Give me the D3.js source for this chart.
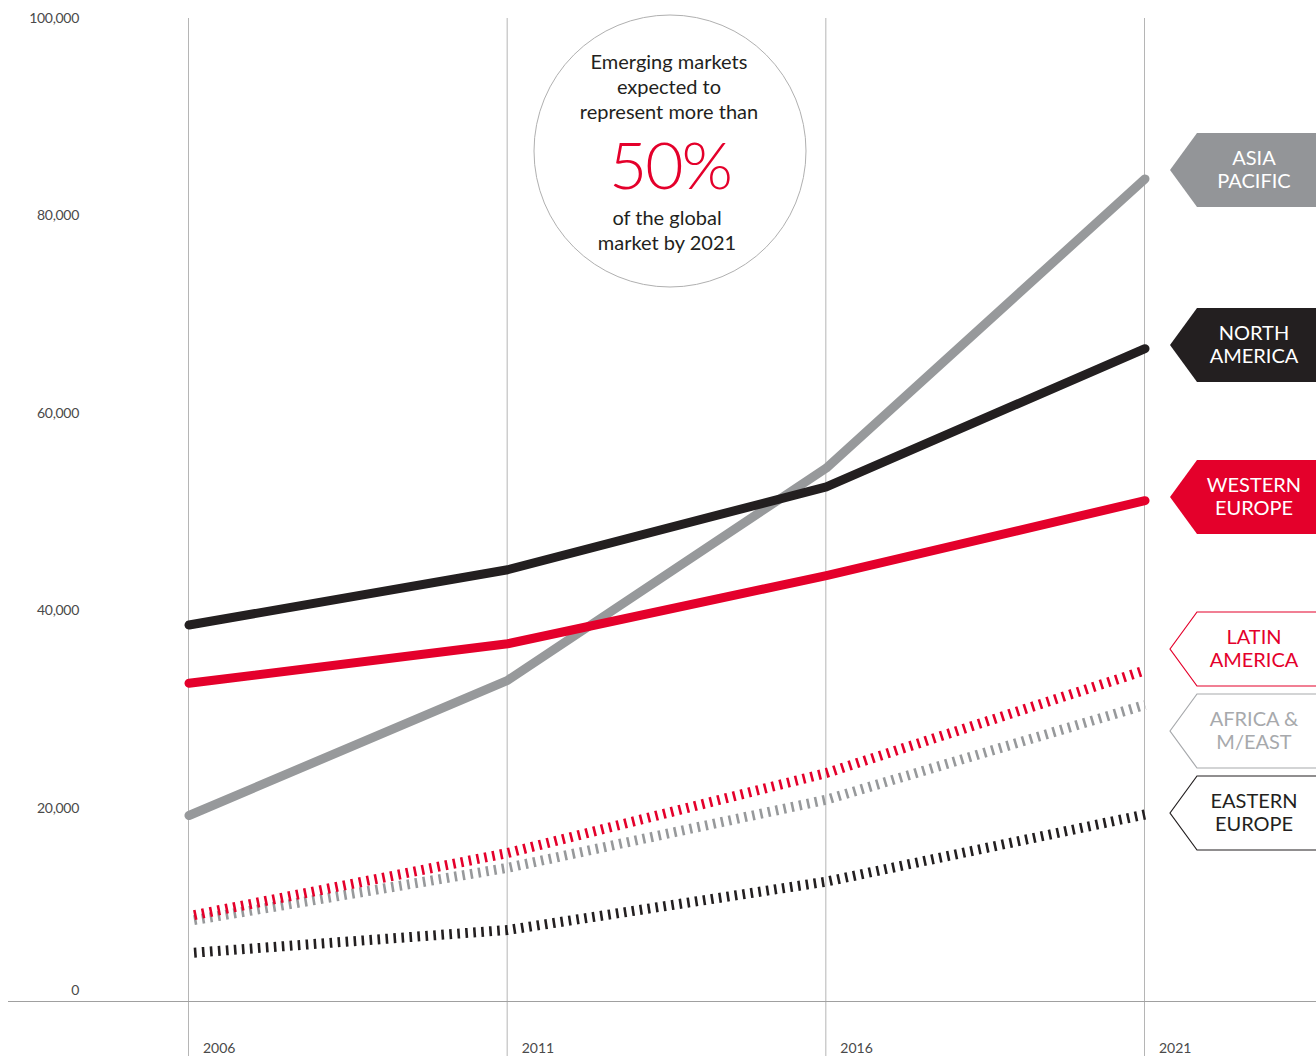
<!DOCTYPE html>
<html>
<head>
<meta charset="utf-8">
<script src="https://cdn.jsdelivr.net/npm/d3@7"></script>
<style>
  html, body { margin: 0; padding: 0; background: #fff; }
  svg { display: block; }
  text { font-family: Lato, "Open Sans", sans-serif; }
</style>
</head>
<body>
<svg id="chart" width="1316" height="1056"></svg>
<script>
// ---- data ----
const years = [2006, 2011, 2016, 2021];
const yTicks = [0, 20000, 40000, 60000, 80000, 100000];
const asiaPacific   = [19200, 32900, 54400, 83700];
const northAmerica  = [38500, 44100, 52500, 66500];
const westernEurope = [32600, 36600, 43500, 51100];
const latinAmerica  = [9100, 15400, 23500, 33900];
const africaMEast   = [8600, 13900, 20800, 30400];
const easternEurope = [5300, 7600, 12500, 19300];
const seriesNames = ["ASIA PACIFIC", "NORTH AMERICA", "WESTERN EUROPE", "LATIN AMERICA", "AFRICA & M/EAST", "EASTERN EUROPE"];
const labelLines = [["ASIA", "PACIFIC"], ["NORTH", "AMERICA"], ["WESTERN", "EUROPE"], ["LATIN", "AMERICA"], ["AFRICA &", "M/EAST"], ["EASTERN", "EUROPE"]];
const calloutLines = ["Emerging markets", "expected to", "represent more than"];
const calloutBig = "50%";
const calloutLines2 = ["of the global", "market by 2021"];

// ---- styling ----
const RED = "#e4002b", BLACK = "#231f20", GRAY = "#97999b", LIGHTGRAY = "#a7a9ac";
const series = [
  { name: seriesNames[0], values: asiaPacific,   color: GRAY,  dashed: false, tag: "fill", tagColor: "#939598", textColor: "#fff", top: 133 },
  { name: seriesNames[1], values: northAmerica,  color: BLACK, dashed: false, tag: "fill", tagColor: BLACK, textColor: "#fff", top: 308 },
  { name: seriesNames[2], values: westernEurope, color: RED,   dashed: false, tag: "fill", tagColor: RED, textColor: "#fff", top: 460 },
  { name: seriesNames[3], values: latinAmerica,  color: RED,   dashed: true,  tag: "outline", tagColor: RED, textColor: RED, top: 612 },
  { name: seriesNames[4], values: africaMEast,   color: GRAY,  dashed: true,  tag: "outline", tagColor: LIGHTGRAY, textColor: LIGHTGRAY, top: 694 },
  { name: seriesNames[5], values: easternEurope, color: BLACK, dashed: true,  tag: "outline", tagColor: BLACK, textColor: BLACK, top: 776 }
];

const svg = d3.select("#chart");
const x = d3.scaleLinear().domain([2006, 2021]).range([189, 1145]);
const y = d3.scaleLinear().domain([0, 100000]).range([1005, 18]);
const axisY = 1001;

// vertical gridlines
svg.append("g").selectAll("line").data(years).join("line")
  .attr("x1", d => x(d) - 0.5).attr("x2", d => x(d) - 0.5)
  .attr("y1", 18).attr("y2", 1056)
  .attr("stroke", "#b5b5b5").attr("stroke-width", 1);

// horizontal axis line
svg.append("line").attr("x1", 8).attr("x2", 1316).attr("y1", axisY + 0.5).attr("y2", axisY + 0.5)
  .attr("stroke", "#a0a0a0").attr("stroke-width", 1);

// y labels
const fmt = d3.format(",");
svg.append("g").selectAll("text").data(yTicks).join("text")
  .attr("x", 79)
  .attr("y", d => Math.min(y(d), axisY - 11) + 5)
  .attr("text-anchor", "end")
  .attr("font-size", 14).attr("fill", "#4a4a4a")
  .attr("letter-spacing", -0.3)
  .text(d => fmt(d));

// x labels
svg.append("g").selectAll("text").data(years).join("text")
  .attr("x", d => x(d) + 14)
  .attr("y", 1053)
  .attr("font-size", 14).attr("fill", "#4a4a4a")
  .text(d => d);

// callout circle
const cx = 670, cy = 151, r = 136;
svg.append("circle").attr("cx", cx).attr("cy", cy).attr("r", r)
  .attr("fill", "#fff").attr("stroke", "#b0b0b0").attr("stroke-width", 1);
svg.append("g").selectAll("text").data(calloutLines).join("text")
  .attr("x", cx - 1).attr("y", (d, i) => 69 + i * 25)
  .attr("text-anchor", "middle").attr("font-size", 20).attr("fill", BLACK)
  .text(d => d);
svg.append("text").attr("x", cx).attr("y", 189)
  .attr("text-anchor", "middle").attr("font-size", 66).attr("font-weight", 300)
  .attr("fill", RED).attr("letter-spacing", -2).text(calloutBig);
svg.append("g").selectAll("text").data(calloutLines2).join("text")
  .attr("x", cx - 3).attr("y", (d, i) => 225 + i * 25)
  .attr("text-anchor", "middle").attr("font-size", 20).attr("fill", BLACK)
  .text(d => d);

// lines (Asia Pacific beneath the other solid lines)
const line = d3.line().x((d, i) => x(years[i])).y(d => y(d));
const dashLine = d3.line().x((d, i) => x(years[i]) + (i === 0 ? 5 : 0)).y(d => y(d));
const drawOrder = [5, 4, 3, 0, 2, 1];
svg.append("g").selectAll("path").data(drawOrder.map(i => series[i])).join("path")
  .attr("d", d => d.dashed ? dashLine(d.values) : line(d.values))
  .attr("fill", "none")
  .attr("stroke", d => d.color)
  .attr("stroke-width", d => d.dashed ? 10 : 9)
  .attr("stroke-linecap", d => d.dashed ? "butt" : "round")
  .attr("stroke-linejoin", "round")
  .attr("stroke-dasharray", d => d.dashed ? "2.6,5.4" : null);

// tags
const tipX = 1170, bodyX = 1197, rightX = 1316, tagH = 74;
const tags = svg.append("g").selectAll("g").data(series).join("g");
tags.append("path")
  .attr("d", d => {
    const t = d.top, b = d.top + tagH, m = (t + b) / 2;
    return `M${tipX},${m} L${bodyX},${t} L${rightX + 2},${t} L${rightX + 2},${b} L${bodyX},${b} Z`;
  })
  .attr("fill", d => d.tag === "fill" ? d.tagColor : "#fff")
  .attr("stroke", d => d.tag === "fill" ? "none" : d.tagColor)
  .attr("stroke-width", 1.2);
tags.each(function(d, i) {
  const g = d3.select(this);
  labelLines[i].forEach((ln, j) => {
    g.append("text")
      .attr("x", 1254).attr("y", d.top + 32 + j * 23)
      .attr("text-anchor", "middle").attr("font-size", 20)
      .attr("fill", d.textColor)
      .text(ln);
  });
});
</script>
</body>
</html>
